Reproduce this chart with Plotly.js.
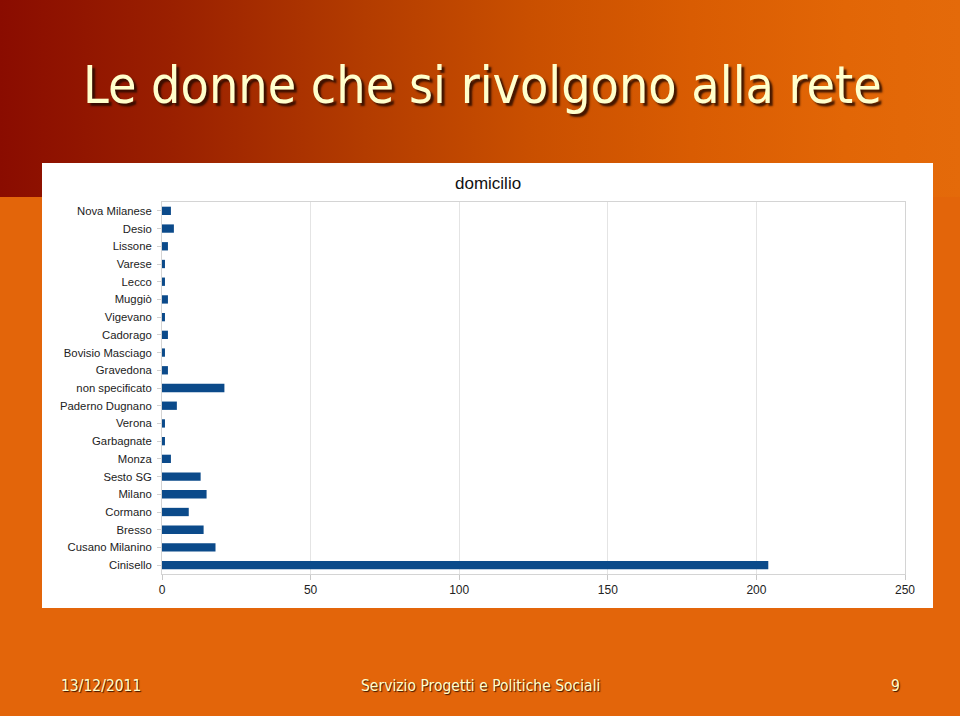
<!DOCTYPE html>
<html>
<head>
<meta charset="utf-8">
<script src="https://cdn.plot.ly/plotly-3.0.1.min.js"></script>
<style>
  html, body { margin: 0; padding: 0; width: 960px; height: 716px; overflow: hidden; }
  body {
    background:
      linear-gradient(to right, #8a0c00 0%, #9a2000 18%, #b33c00 38%, #c94f00 55%, #d95c02 72%, #e26606 88%, #e46a0a 100%) top left / 960px 197px no-repeat,
      #e3650a;
  }
  #chart { width: 960px; height: 716px; }
</style>
</head>
<body>
<div id="chart"></div>
<script>
// Data (top to bottom as shown)
const categories = ["Nova Milanese","Desio","Lissone","Varese","Lecco","Muggiò","Vigevano","Cadorago","Bovisio Masciago","Gravedona","non specificato","Paderno Dugnano","Verona","Garbagnate","Monza","Sesto SG","Milano","Cormano","Bresso","Cusano Milanino","Cinisello"];
const values = [3,4,2,1,1,2,1,2,1,2,21,5,1,1,3,13,15,9,14,18,204];
const xTicks = [0,50,100,150,200,250];
const chartTitle = "domicilio";
const slideTitle = "Le donne che si rivolgono alla rete";
const footerDate = "13/12/2011";
const footerCenter = "Servizio Progetti e Politiche Sociali";
const footerPage = "9";

// pixel helpers for paper-positioned decorations
const L = 162, R = 905, T = 202, B = 574;
const px = v => (v - L) / (R - L);
const py = v => (B - v) / (B - T);

const narrow = "DejaVu Sans Condensed, DejaVu Sans, sans-serif";
const cream = "#ffffcc";

const trace = {
  type: "bar",
  orientation: "h",
  x: values,
  y: categories,
  marker: { color: "#0b4a8a", line: { width: 0 } },
  hoverinfo: "x+y"
};

const layout = {
  width: 960, height: 716,
  margin: { l: L, r: 960 - R, t: T, b: 716 - B, pad: 0 },
  paper_bgcolor: "rgba(0,0,0,0)",
  plot_bgcolor: "#ffffff",
  showlegend: false,
  bargap: 0.53,
  font: { family: "Liberation Sans, Arial, sans-serif", color: "#222222", size: 12 },
  xaxis: {
    range: [0, 250],
    tickvals: xTicks,
    ticktext: xTicks.map(String),
    showgrid: true, gridcolor: "#e4e4e4", gridwidth: 1,
    zeroline: false,
    showline: true, linecolor: "#d4d4d4", mirror: true,
    ticks: "outside", ticklen: 5, tickcolor: "#c8c8c8",
    tickfont: { size: 12, color: "#222" },
    fixedrange: true
  },
  yaxis: {
    autorange: "reversed",
    type: "category",
    showgrid: false,
    showline: true, linecolor: "#d4d4d4", mirror: true,
    ticks: "outside", ticklen: 4, tickcolor: "#d0d0d0",
    ticklabelstandoff: 3,
    tickfont: { size: 11.3, color: "#222" },
    fixedrange: true
  },
  shapes: [
    { type: "rect", xref: "paper", yref: "paper", layer: "below",
      x0: px(42), x1: px(933), y0: py(608), y1: py(163),
      fillcolor: "#ffffff", line: { width: 0 } }
  ],
  annotations: [
    { xref: "paper", yref: "paper", x: px(487.5), y: py(183), xanchor: "center", yanchor: "middle",
      text: chartTitle, showarrow: false, font: { family: "Liberation Sans, Arial, sans-serif", size: 17, color: "#111" } },
    { xref: "paper", yref: "paper", x: px(482), y: py(85), xanchor: "center", yanchor: "middle",
      text: slideTitle, showarrow: false,
      font: { family: narrow, size: 51.5, color: cream, shadow: "3px 3px 2px rgba(40,10,0,0.85)" } },
    { xref: "paper", yref: "paper", x: px(101), y: py(686), xanchor: "center", yanchor: "middle",
      text: footerDate, showarrow: false,
      font: { family: narrow, size: 15.5, color: cream, shadow: "1px 1px 1px rgba(40,10,0,0.9)" } },
    { xref: "paper", yref: "paper", x: px(480), y: py(686), xanchor: "center", yanchor: "middle",
      text: footerCenter, showarrow: false,
      font: { family: narrow, size: 15.5, color: cream, shadow: "1px 1px 1px rgba(40,10,0,0.9)" } },
    { xref: "paper", yref: "paper", x: px(895), y: py(686), xanchor: "center", yanchor: "middle",
      text: footerPage, showarrow: false,
      font: { family: narrow, size: 15.5, color: cream, shadow: "1px 1px 1px rgba(40,10,0,0.9)" } }
  ]
};

Plotly.newPlot("chart", [trace], layout, { staticPlot: true, displayModeBar: false });
</script>
</body>
</html>
